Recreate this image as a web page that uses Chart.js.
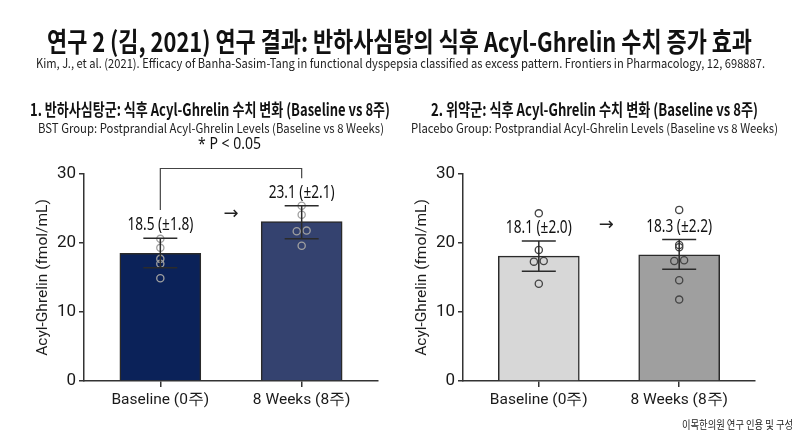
<!DOCTYPE html>
<html>
<head>
<meta charset="utf-8">
<script src="https://cdn.jsdelivr.net/npm/chart.js@4.4.1/dist/chart.umd.min.js"></script>
<style>
html, body { margin: 0; padding: 0; background: #fff; }
#page { position: relative; width: 800px; height: 436px; overflow: hidden; font-family: "Noto Sans CJK KR", "Noto Sans", sans-serif; color: #111; }
.t { position: absolute; white-space: nowrap; transform-origin: 0 50%; line-height: 1; z-index: 2; }
canvas { position: absolute; top: 0; }
</style>
</head>
<body>
<div id="page">
  <div class="t" data-x="47" data-y="40" data-w="705" style="font-size:27px;font-weight:700">연구 2 (김, 2021) 연구 결과: 반하사심탕의 식후 Acyl-Ghrelin 수치 증가 효과</div>
  <div class="t" data-x="36" data-y="63" data-w="729" style="font-size:12.5px;color:#222">Kim, J., et al. (2021). Efficacy of Banha-Sasim-Tang in functional dyspepsia classified as excess pattern. Frontiers in Pharmacology, 12, 698887.</div>
  <div class="t" data-x="30" data-y="108" data-w="360" style="font-size:17px;font-weight:700">1. 반하사심탕군: 식후 Acyl-Ghrelin 수치 변화 (Baseline vs 8주)</div>
  <div class="t" data-x="38" data-y="128" data-w="346" style="font-size:12.5px;color:#222">BST Group: Postprandial Acyl-Ghrelin Levels (Baseline vs 8 Weeks)</div>
  <div class="t" data-x="431" data-y="108" data-w="327" style="font-size:17px;font-weight:700">2. 위약군: 식후 Acyl-Ghrelin 수치 변화 (Baseline vs 8주)</div>
  <div class="t" data-x="411" data-y="128" data-w="367" style="font-size:12.5px;color:#222">Placebo Group: Postprandial Acyl-Ghrelin Levels (Baseline vs 8 Weeks)</div>
  <div class="t" data-x="682" data-y="424" data-w="111" style="font-size:11px;color:#222">이목한의원 연구 인용 및 구성</div>
  <canvas id="bst" width="400" height="436" style="left:0"></canvas>
  <canvas id="placebo" width="400" height="436" style="left:400px"></canvas>
</div>
<script>
// categories + axis
const categories = ['Baseline (0주)', '8 Weeks (8주)'];
const yTicks = [0, 10, 20, 30];

// BST group
const bstMeans = [18.5, 23.1];
const bstSd = [1.8, 2.1];
const bstErrLow = [16.4, 20.6];
const bstErrHigh = [20.7, 25.4];
const bstBaselineDots = [20.6, 19.3, 17.7, 17.0, 14.9];
const bstBaselineSide = [0, 0, 0, 0, 0];
const bstWeek8Dots = [25.4, 24.1, 21.7, 21.8, 19.6];
const bstWeek8Side = [0, 0, -1, 1, 0];

// placebo group
const placeboMeans = [18.1, 18.3];
const placeboSd = [2.0, 2.2];
const placeboErrLow = [15.9, 16.2];
const placeboErrHigh = [20.3, 20.5];
const placeboBaselineDots = [24.3, 19.0, 17.3, 17.4, 14.1];
const placeboBaselineSide = [0, 0, -1, 1, 0];
const placeboWeek8Dots = [24.8, 19.7, 19.4, 17.4, 17.5, 14.6, 11.8];
const placeboWeek8Side = [0, 0, 0, -1, 1, 0, 0];

// fit the html texts to their widths
document.querySelectorAll('.t').forEach(function (el) {
    const w = el.getBoundingClientRect().width;
    const h = el.getBoundingClientRect().height;
    el.style.left = el.dataset.x + 'px';
    el.style.top = (el.dataset.y - h / 2) + 'px';
    el.style.transform = 'scaleX(' + (el.dataset.w / w) + ')';
});

function dotPoints(values, side, idx) {
    return values.map(function (v, i) { return {x: idx + side[i] * 0.035, y: v}; });
}

function drawFitText(ctx, text, x, y, font, sx) {
    ctx.save();
    ctx.font = font;
    ctx.translate(x, y);
    ctx.scale(sx, 1);
    ctx.textAlign = 'center';
    ctx.textBaseline = 'middle';
    ctx.fillText(text, 0, 0);
    ctx.restore();
}

const panelMarks = {
    id: 'panelMarks',
    afterDatasetsDraw: function (chart, args, o) {
        const ctx = chart.ctx;
        const xs = chart.scales.x, ys = chart.scales.y;
        ctx.save();
        ctx.strokeStyle = '#2b2b2b';
        ctx.lineWidth = 1.5;
        // error bars
        o.means.forEach(function (m, i) {
            const px = xs.getPixelForValue(i);
            const top = ys.getPixelForValue(o.errHigh[i]);
            const bot = ys.getPixelForValue(o.errLow[i]);
            ctx.beginPath();
            ctx.moveTo(px, top); ctx.lineTo(px, bot);
            ctx.moveTo(px - 17, top); ctx.lineTo(px + 17, top);
            ctx.moveTo(px - 17, bot); ctx.lineTo(px + 17, bot);
            ctx.stroke();
            ctx.fillStyle = '#111';
            drawFitText(ctx, m.toFixed(1) + ' (±' + o.sd[i].toFixed(1) + ')', px, top - 13,
                '17.5px "Noto Sans"', 0.78);
        });
        // arrow between bars
        ctx.fillStyle = '#222';
        drawFitText(ctx, '→', xs.getPixelForValue(o.arrow[0]), ys.getPixelForValue(o.arrow[1]),
            '18px "DejaVu Sans"', 1);
        // significance bracket
        if (o.bracket) {
            const b = o.bracket;
            ctx.strokeStyle = '#444';
            ctx.lineWidth = 1.2;
            ctx.beginPath();
            ctx.moveTo(xs.getPixelForValue(0), ys.getPixelForValue(b.leftFoot));
            ctx.lineTo(xs.getPixelForValue(0), ys.getPixelForValue(b.top));
            ctx.lineTo(xs.getPixelForValue(1), ys.getPixelForValue(b.top));
            ctx.lineTo(xs.getPixelForValue(1), ys.getPixelForValue(b.rightFoot));
            ctx.stroke();
            ctx.fillStyle = '#111';
            drawFitText(ctx, b.text, xs.getPixelForValue(0.49), ys.getPixelForValue(b.textY),
                '16.5px "Noto Sans"', 0.85);
        }
        ctx.restore();
    }
};

function makePanel(id, p) {
    return new Chart(document.getElementById(id), {
        type: 'bar',
        data: {
            datasets: [
                {
                    type: 'scatter',
                    data: dotPoints(p.dots0, p.side0, 0).concat(dotPoints(p.dots1, p.side1, 1)),
                    pointRadius: 3.6,
                    pointBackgroundColor: 'rgba(255,255,255,0)',
                    pointBorderColor: p.dotColor,
                    pointBorderWidth: 1.3,
                    order: 1
                },
                {
                    type: 'bar',
                    data: p.means.map(function (v, i) { return {x: i, y: v}; }),
                    backgroundColor: p.colors,
                    borderColor: '#2a2a2a',
                    borderWidth: 1.5,
                    borderSkipped: 'bottom',
                    barThickness: 81,
                    order: 2
                }
            ]
        },
        options: {
            responsive: false,
            animation: false,
            layout: {padding: p.padding},
            plugins: {
                legend: {display: false},
                tooltip: {enabled: false},
                panelMarks: {
                    means: p.means, sd: p.sd, errLow: p.errLow, errHigh: p.errHigh,
                    arrow: p.arrow, bracket: p.bracket
                }
            },
            scales: {
                x: {
                    type: 'linear', min: -0.54, max: 1.54, offset: false,
                    afterBuildTicks: function (s) { s.ticks = categories.map(function (c, i) { return {value: i}; }); },
                    afterFit: function (s) { s.height = 30; },
                    ticks: {
                        callback: function (v) { return categories[v]; },
                        font: {family: 'Roboto', size: 15.5}, color: '#1a1a1a', padding: 4,
                        autoSkip: false, maxRotation: 0
                    },
                    grid: {offset: false, drawOnChartArea: false, tickLength: 6, color: '#333', lineWidth: 1.5},
                    border: {color: '#333', width: 1.5}
                },
                y: {
                    min: 0, max: 30,
                    afterBuildTicks: function (s) { s.ticks = yTicks.map(function (v) { return {value: v}; }); },
                    afterFit: function (s) { s.width = p.yWidth; },
                    ticks: {font: {family: 'Roboto', size: 17}, color: '#1a1a1a', padding: 3},
                    grid: {drawOnChartArea: false, tickLength: 5, color: '#333', lineWidth: 1.5},
                    border: {color: '#333', width: 1.5},
                    title: {
                        display: true, text: 'Acyl-Ghrelin (fmol/mL)',
                        font: {family: 'Roboto', size: 15.5}, color: '#1a1a1a', padding: {top: 4, bottom: 0}
                    }
                }
            }
        },
        plugins: [panelMarks]
    });
}

makePanel('bst', {
    means: bstMeans, sd: bstSd, errLow: bstErrLow, errHigh: bstErrHigh,
    dots0: bstBaselineDots, side0: bstBaselineSide, dots1: bstWeek8Dots, side1: bstWeek8Side,
    colors: ['#0b2259', '#34426f'], dotColor: '#a0a0a0',
    padding: {left: 30, right: 22, top: 174, bottom: 25}, yWidth: 54,
    arrow: [0.5, 24.1],
    bracket: {leftFoot: 24.8, rightFoot: 29.4, top: 30.8, textY: 34.3, text: '* P < 0.05'}
});

makePanel('placebo', {
    means: placeboMeans, sd: placeboSd, errLow: placeboErrLow, errHigh: placeboErrHigh,
    dots0: placeboBaselineDots, side0: placeboBaselineSide, dots1: placeboWeek8Dots, side1: placeboWeek8Side,
    colors: ['#d7d7d7', '#9f9f9f'], dotColor: '#444',
    padding: {left: 9, right: 45, top: 174, bottom: 25}, yWidth: 54,
    arrow: [0.48, 22.5],
    bracket: null
});
</script>
</body>
</html>
